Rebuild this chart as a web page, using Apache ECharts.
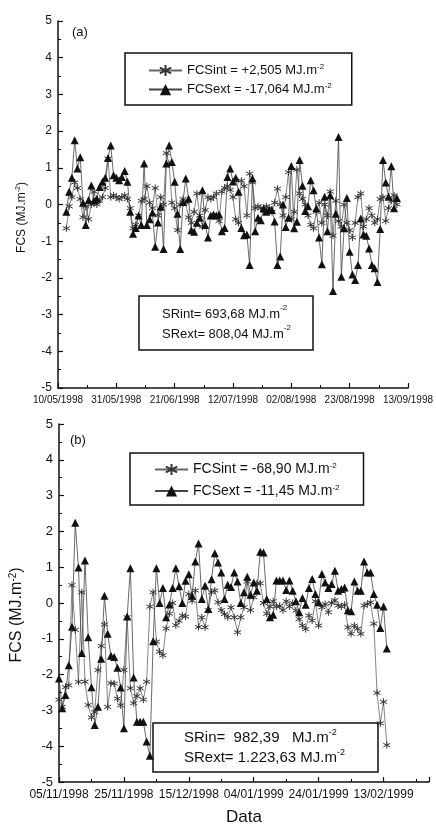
<!DOCTYPE html>
<html>
<head>
<meta charset="utf-8">
<script src="https://cdn.jsdelivr.net/npm/echarts@6/dist/echarts.min.js"></script>
<style>
  html, body { margin: 0; padding: 0; background: #fff; }
  #chart { width: 436px; height: 827px; }
</style>
</head>
<body>
<div id="chart"></div>
<script>
// 刻度标签
const xLabelsA = ['10/05/1998', '31/05/1998', '21/06/1998', '12/07/1998', '02/08/1998', '23/08/1998', '13/09/1998'];
const xLabelsB = ['05/11/1998', '25/11/1998', '15/12/1998', '04/01/1999', '24/01/1999', '13/02/1999'];

// (a) 每日数据，从 13/05/1998 开始（轴起点后第3天）
const firstDayA = 3;
const fcsIntA = [
  -0.65, -0.05, 0.2, 0.6, 0.45, 0.15, -0.35, -0.05, -0.4, 0.0,
  0.35, 0.0, 0.1, 0.2, 0.45, 1.25, 0.2, 0.25, 0.2, 0.15,
  0.2, 0.25, 0.15, -0.1, -0.65, -0.55, -0.3, 0.1, 0.15, 0.5,
  0.05, -0.1, 0.45, -0.3, 0.2, 0.0, 1.4, 1.1, 0.05, -0.1,
  -0.7, 0.0, 0.15, 0.05, -0.35, -0.5, -0.2, 0.3, -0.3, -0.6,
  -0.15, 0.2, 0.15, 0.2, 0.3, -0.45, 0.35, 0.45, 0.5, 0.4,
  0.2, -0.4, -0.5, 0.65, 0.5, -0.3, 0.84, 0.6, -0.1, -0.05,
  -0.1, -0.15, -0.05, -0.1, -0.2, 0.05, 0.43, 0.0, -0.3, 0.2,
  0.88, -0.4, -0.2, 0.95, 0.3, 0.15, 0.0, -0.3, -0.55, -0.65,
  -0.2, 0.05, -0.5, 0.0, -0.3, 0.35, -0.85, 0.1, -0.45, -0.6,
  0.0, -0.5, -0.7, -0.9, -0.5, 0.2, 0.3, -0.6, -0.4, -0.1,
  -0.3, -0.5, -0.4, 0.15, 0.2, -0.45, -0.1, 0.1, 0.25, 0.0
];
const fcsExtA = [
  -0.2, 0.35, 0.73, 1.75, 0.98, 1.29, 0.05, -0.56, 0.12, 0.52,
  0.1, 0.16, 0.48, 0.62, 0.73, 1.27, 1.61, 0.8, 0.73, 0.66,
  0.75, 0.91, 0.62, -0.2, -0.8, -0.64, -0.3, -0.56, 1.12, -0.56,
  -0.4, -0.22, -1.15, -0.49, -0.06, -1.21, 1.12, 1.61, 1.16, 0.62,
  -0.25,
  -1.21, 0.07, 0.71, 0.16, -0.7, -0.74, -0.5, -0.36, 0.39, -0.56,
  -0.9, -0.3, -0.27, -0.3, -0.27, -0.73, -0.64, 0.75, 0.98, 0.63,
  0.73, 0.35, -0.64, -0.84, -0.82, -1.65, 0.71, -0.73, -0.36, -0.43,
  -0.11, -0.2, -0.15, -0.15, -0.46, -1.65, -1.42, 0.0, -0.61, -0.36, 1.05,
  -0.65, -0.47, 1.21, 0.51, -0.18, -0.05, 0.66, 0.39, -0.1, -0.9,
  -1.63, 0.21, -0.73, 0.25, -2.36, -0.25, 1.84, -1.97, -0.65, 0.18,
  -1.29, -1.91, -2.06, -1.65, -0.38, -0.82, -0.85, -1.2, -1.65, -1.74,
  -2.11, -0.67, 1.21, 0.6, 0.21, 1.04, -0.1, 0.18
];

// (b) 每日数据，从 05/11/1998 开始
const firstDayB = 0;
const fcsIntB = [
  -2.7, -2.9, -2.35, -2.3, 0.5, -0.75, -2.2, 0.3, -2.2, -2.85,
  -3.2, -3.05, -1.87, -1.2, -0.6, -2.9, -2.24, -2.25, -2.67, -2.86,
  -1.87, -0.4, -2.38, -2.8, -2.6, -2.38, -2.7, -2.2, -0.1, 0.3,
  -1.08, -1.36, -1.46, -0.71, -0.3, 0.0, -0.62, -0.5, -0.35, -0.38,
  0.25, 0.06, 0.35, -0.67, -0.4, -0.68, -0.2, 0.3, 0.35, 0.02,
  -0.2, -0.31, -0.4, -0.12, -0.4, -0.82, -0.4, -0.12, 0.6, -0.2,
  0.16, 0.55, 0.55, 0.0, -0.3, -0.1, 0.05, -0.1, -0.08, -0.2,
  0.05, -0.1, 0.0, -0.21, -0.45, -0.63, -0.73, -0.35, -0.49, 0.05,
  -0.63, -0.12, -0.03, -0.26, 0.0, 0.08, -0.07, -0.1, -0.05, -0.68,
  -0.86, -0.63, -0.72, -0.86, -0.07, -0.03, 0.02, -0.58, -2.51, -3.36,
  -2.76, -3.97
];
const fcsExtB = [
  -2.11, -2.94, -2.57, -1.74, -0.66, 2.24, 0.99, -1.4, 1.19, -0.96,
  -2.35, -3.41, -2.9, -1.56, 0.2, -0.86, -1.47, -1.51, -1.81, -2.36,
  -3.5, -0.38, 0.97, -2.08, -3.32, -3.32, -3.32, -3.87, -4.27, -1.07,
  0.97, 0.0, 0.42, -0.4, -0.04, 0.42, 0.97, 0.47,
  0.0, 0.62, 0.8, 0.2, 1.16, 1.66, 0.11, 0.48, -0.17, 0.66,
  1.39, 1.13, 0.85, 0.11, 0.51, 0.45, 0.85, 0.6, 0.0, 0.3,
  0.73, 0.23, 0.57, 0.34, 1.43, 1.41, 0.11, -0.4, -0.33, 0.63,
  0.63, 0.63, 0.36, 0.63, 0.34,
  0.05, -0.26, 0.14, -0.05, 0.42, 0.67, 0.25, 0.02, 0.81, 0.57,
  0.42, 0.53, 0.9, 0.34, 0.39, 0.43, -0.2, -0.23, 0.6, 0.34,
  0.34, 1.16, 0.85, 0.85, 0.25, -0.05, -0.7, -0.1, -1.27
];

// 图例与注释文字
const legendTextA = { 'FCSint a': 'FCSint = +2,505 MJ.m', 'FCSext a': 'FCSext = -17,064 MJ.m' };
const legendTextB = { 'FCSint b': 'FCSint = -68,90 MJ.m', 'FCSext b': 'FCSext = -11,45 MJ.m' };
const srTextA = ['SRint= 693,68 MJ.m', 'SRext= 808,04 MJ.m'];
const srTextB = ['SRin=  982,39   MJ.m', 'SRext= 1.223,63 MJ.m'];

const FONT = 'Liberation Sans, Arial, sans-serif';
const INK = '#111';
const ASTERISK = 'path://M0,-1L0,1M-0.87,-0.5L0.87,0.5M-0.87,0.5L0.87,-0.5';

function toPoints(values, firstDay) {
  return values.map((v, i) => [firstDay + i, v]);
}

function supRich(size) {
  return {
    t: { fontSize: size, fontFamily: FONT, color: INK },
    s: { fontSize: Math.round(size * 0.6), fontFamily: FONT, color: INK, verticalAlign: 'top', padding: [0, 0, Math.round(size * 0.5), 0] }
  };
}

function xAxisFor(gridIndex, max, interval, labels, fontSize, extra) {
  return Object.assign({
    type: 'value',
    gridIndex: gridIndex,
    min: 0,
    max: max,
    interval: interval,
    axisLine: { onZero: false, lineStyle: { color: INK, width: 1.5 } },
    axisTick: { inside: true, length: 5, lineStyle: { color: INK, width: 1.2 } },
    minorTick: { show: true, splitNumber: 2, length: 3, lineStyle: { color: INK, width: 1 } },
    splitLine: { show: false },
    axisLabel: {
      color: INK,
      fontFamily: FONT,
      fontSize: fontSize,
      margin: 7,
      showMaxLabel: true,
      formatter: function (v) {
        const k = Math.round(v / interval);
        return Math.abs(k * interval - v) < 1e-6 && labels[k] ? labels[k] : '';
      }
    }
  }, extra || {});
}

function yAxisFor(gridIndex, fontSize, nameSize, nameGap, namePad) {
  return {
    type: 'value',
    gridIndex: gridIndex,
    min: -5,
    max: 5,
    interval: 1,
    name: 'FCS (MJ.m{s|-2})',
    nameLocation: 'middle',
    nameGap: nameGap,
    nameTextStyle: {
      fontFamily: FONT,
      fontSize: nameSize,
      color: INK,
      padding: namePad,
      rich: { s: { fontSize: Math.round(nameSize * 0.6), fontFamily: FONT, color: INK, verticalAlign: 'top', padding: [0, 0, Math.round(nameSize * 0.5), 0] } }
    },
    axisLine: { onZero: false, lineStyle: { color: INK, width: 1.5 } },
    axisTick: { inside: true, length: 5, lineStyle: { color: INK, width: 1.2 } },
    minorTick: { show: true, splitNumber: 2, length: 3, lineStyle: { color: INK, width: 1 } },
    splitLine: { show: false },
    axisLabel: { color: INK, fontFamily: FONT, fontSize: fontSize, margin: 6 }
  };
}

function intSeries(name, idx, data) {
  return {
    name: name,
    type: 'line',
    xAxisIndex: idx,
    yAxisIndex: idx,
    data: data,
    symbol: ASTERISK,
    symbolSize: 7,
    itemStyle: { color: 'rgba(0,0,0,0)', borderColor: '#333', borderWidth: 1 },
    lineStyle: { color: '#666', width: 0.8 },
    z: 2
  };
}

function extSeries(name, idx, data) {
  return {
    name: name,
    type: 'line',
    xAxisIndex: idx,
    yAxisIndex: idx,
    data: data,
    symbol: 'triangle',
    symbolSize: 8,
    itemStyle: { color: INK, borderWidth: 0 },
    lineStyle: { color: '#444', width: 0.8 },
    z: 3
  };
}

const chart = echarts.init(document.getElementById('chart'));

const option = {
  animation: false,
  backgroundColor: '#fff',
  title: [
    { text: '(a)', left: 67, top: 21, textStyle: { fontFamily: FONT, fontSize: 13, fontWeight: 'normal', color: INK } },
    { text: '(b)', left: 65, top: 429, textStyle: { fontFamily: FONT, fontSize: 13, fontWeight: 'normal', color: INK } },
    {
      text: srTextA.map(s => '{t|' + s + '}{s|-2}').join('\n'),
      left: 139, top: 296,
      textAlign: 'left',
      padding: [8, 22, 6, 23],
      borderColor: INK, borderWidth: 1.5,
      textStyle: { fontWeight: 'normal', lineHeight: 20, rich: supRich(13) }
    },
    {
      text: srTextB.map(s => '{t|' + s + '}{s|-2}').join('\n'),
      left: 153, top: 723,
      textAlign: 'left',
      padding: [5, 33, 4, 31],
      borderColor: INK, borderWidth: 1.5,
      textStyle: { fontWeight: 'normal', lineHeight: 20, rich: supRich(15) }
    }
  ],
  legend: [
    {
      data: ['FCSint a', 'FCSext a'],
      orient: 'vertical',
      left: 125, top: 53,
      padding: [10, 20, 9, 23],
      itemGap: 5,
      itemWidth: 33,
      itemHeight: 14,
      borderColor: INK, borderWidth: 1.5,
      formatter: name => '{t|' + legendTextA[name] + '}{s|-2}',
      textStyle: { rich: supRich(13) }
    },
    {
      data: ['FCSint b', 'FCSext b'],
      orient: 'vertical',
      left: 130, top: 453,
      padding: [9, 24, 7, 24],
      itemGap: 7,
      itemWidth: 33,
      itemHeight: 14,
      borderColor: INK, borderWidth: 1.5,
      formatter: name => '{t|' + legendTextB[name] + '}{s|-2}',
      textStyle: { rich: supRich(14) }
    }
  ],
  grid: [
    { left: 58, top: 21, width: 350, height: 367 },
    { left: 57, top: 424, width: 372, height: 360 }
  ],
  xAxis: [
    xAxisFor(0, 126, 21, xLabelsA, 10),
    xAxisFor(1, 114, 20, xLabelsB, 12, {
      name: 'Data',
      nameLocation: 'middle',
      nameGap: 27,
      nameTextStyle: { fontFamily: FONT, fontSize: 17, color: INK }
    })
  ],
  yAxis: [
    yAxisFor(0, 12, 12, 30, [0, 26, 0, 0]),
    yAxisFor(1, 13, 16, 33, [0, 24, 0, 0])
  ],
  series: [
    intSeries('FCSint a', 0, toPoints(fcsIntA, firstDayA)),
    extSeries('FCSext a', 0, toPoints(fcsExtA, firstDayA)),
    intSeries('FCSint b', 1, toPoints(fcsIntB, firstDayB)),
    extSeries('FCSext b', 1, toPoints(fcsExtB, firstDayB))
  ]
};

chart.setOption(option);
</script>
</body>
</html>
